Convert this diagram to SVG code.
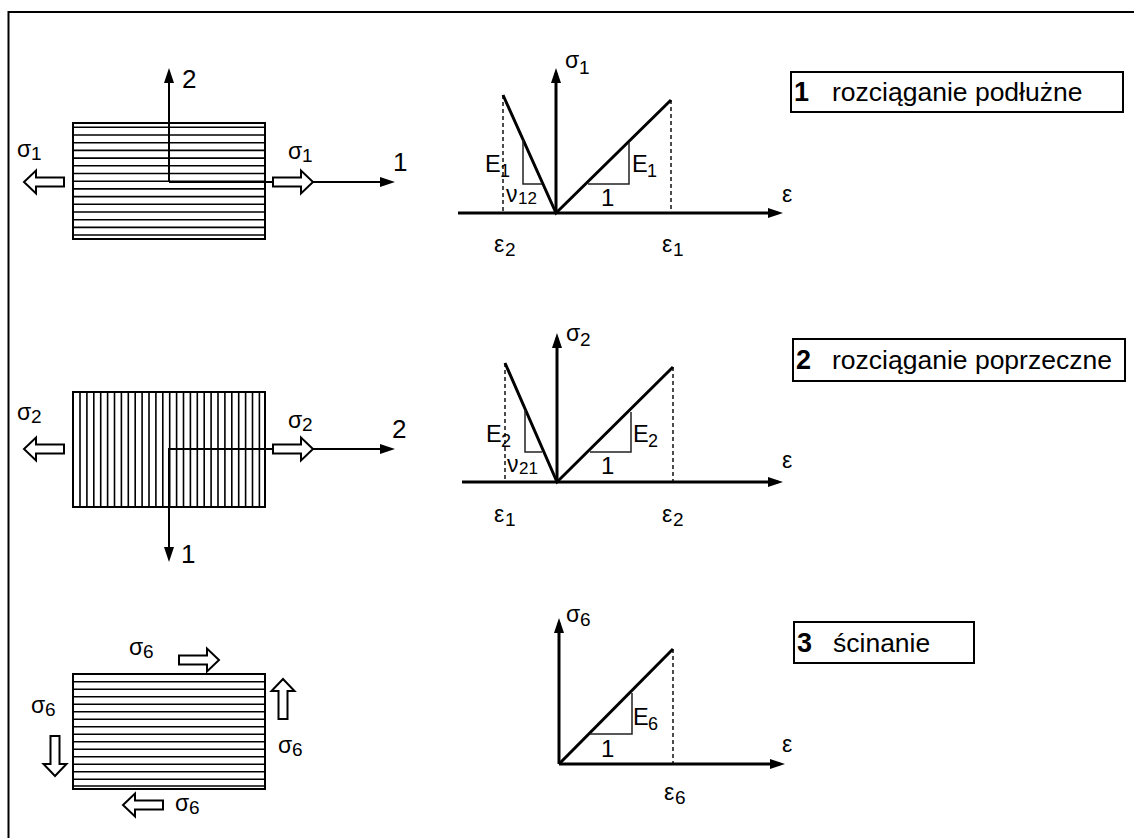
<svg xmlns="http://www.w3.org/2000/svg" width="1134" height="838" viewBox="0 0 1134 838">
<style>
text{font-family:"Liberation Sans",Arial,sans-serif;fill:#000}
.g{font-size:23px}
.s{font-size:19px}
.lab{font-size:26px}
.one{font-size:24px}
.e{font-size:23.5px}
.es{font-size:18px}
.ns{font-size:17px}
.box{fill:#fff;stroke:#000;stroke-width:2}
.hatch{fill:none;stroke:#000;stroke-width:1.6}
.ax{fill:none;stroke:#000;stroke-width:2}
.cax{fill:none;stroke:#000;stroke-width:3}
.curve{fill:none;stroke:#000;stroke-width:3}
.tri{fill:none;stroke:#222;stroke-width:1.5}
.dash{fill:none;stroke:#000;stroke-width:1.4;stroke-dasharray:4,3}
.harr{fill:#fff;stroke:#000;stroke-width:2}
.title{font-size:26.5px}
.num{font-size:27px;font-weight:bold}
</style>
<defs>
<marker id="ah" viewBox="0 0 15 10" refX="10" refY="5" markerWidth="15" markerHeight="10" markerUnits="userSpaceOnUse" orient="auto">
<path d="M0,0 L15,5 L0,10 Z" fill="#000"/>
</marker>
<path id="hollow" d="M0,-4.5 H28 V-11.5 L40,0 L28,11.5 V4.5 H0 Z"/>
</defs>

<path d="M8.5,838 V12 H1134" fill="none" stroke="#000" stroke-width="2"/>

<!-- Block 1: longitudinal tension -->
<g id="block1">
<rect class="box" x="73" y="123" width="192" height="116"/>
<path class="hatch" d="M74,127.3H264M74,135H264M74,142.7H264M74,150.4H264M74,158.1H264M74,165.8H264M74,173.5H264M74,181.2H264M74,188.9H264M74,196.6H264M74,204.3H264M74,212H264M74,219.7H264M74,227.4H264M74,235H264"/>
<path class="ax" d="M169,182 V73" marker-end="url(#ah)"/>
<path class="ax" d="M169,182 H390" marker-end="url(#ah)"/>
<use href="#hollow" class="harr" transform="translate(273,182)"/>
<use href="#hollow" class="harr" transform="translate(64,182) rotate(180)"/>
<text class="lab" x="182" y="88">2</text>
<text class="lab" x="393" y="171">1</text>
<text class="g" x="17" y="157">σ</text><text class="s" x="31" y="160">1</text>
<text class="g" x="288" y="159">σ</text><text class="s" x="302" y="162">1</text>
</g>

<!-- Block 2: transverse tension -->
<g id="block2">
<rect class="box" x="73" y="392" width="192" height="115"/>
<path class="hatch" d="M80,393V506M86.9,393V506M93.8,393V506M100.7,393V506M107.6,393V506M114.5,393V506M121.4,393V506M128.3,393V506M135.2,393V506M142.1,393V506M149,393V506M155.9,393V506M162.8,393V506M169.7,393V506M176.6,393V506M183.5,393V506M190.4,393V506M197.3,393V506M204.2,393V506M211.1,393V506M218,393V506M224.9,393V506M231.8,393V506M238.7,393V506M245.6,393V506M252.5,393V506M259.4,393V506"/>
<path class="ax" d="M169,449 H390" marker-end="url(#ah)"/>
<path class="ax" d="M169,448 V557" marker-end="url(#ah)"/>
<use href="#hollow" class="harr" transform="translate(273,449)"/>
<use href="#hollow" class="harr" transform="translate(64,449) rotate(180)"/>
<text class="lab" x="392" y="438">2</text>
<text class="lab" x="181" y="563">1</text>
<text class="g" x="17" y="420">σ</text><text class="s" x="31" y="423">2</text>
<text class="g" x="288" y="428">σ</text><text class="s" x="302" y="431">2</text>
</g>

<!-- Block 3: shear -->
<g id="block3">
<rect class="box" x="73" y="674" width="192" height="115"/>
<path class="hatch" d="M74,681.7H264M74,689.2H264M74,696.7H264M74,704.2H264M74,711.7H264M74,719.2H264M74,726.7H264M74,734.2H264M74,741.7H264M74,749.2H264M74,756.7H264M74,764.2H264M74,771.7H264M74,779.2H264M74,786H264"/>
<use href="#hollow" class="harr" transform="translate(179,660)"/>
<use href="#hollow" class="harr" transform="translate(163,805) rotate(180)"/>
<use href="#hollow" class="harr" transform="translate(283,719) rotate(-90)"/>
<use href="#hollow" class="harr" transform="translate(55,736) rotate(90)"/>
<text class="g" x="129" y="655">σ</text><text class="s" x="143" y="658">6</text>
<text class="g" x="31" y="713">σ</text><text class="s" x="45" y="716">6</text>
<text class="g" x="278" y="753">σ</text><text class="s" x="292" y="756">6</text>
<text class="g" x="175" y="811">σ</text><text class="s" x="189" y="814">6</text>
</g>

<!-- Chart 1 -->
<g id="chart1">
<path class="dash" d="M503,95 V213 M671,100 V213"/>
<path class="cax" d="M458,213 H778" marker-end="url(#ah)"/>
<path class="cax" d="M556,213 V73" marker-end="url(#ah)"/>
<path class="curve" d="M503,95 L556,213 L671,100"/>
<path class="tri" d="M523,140 V184 H542 M588,184 H629 V143"/>
<text class="g" x="565" y="68">σ</text><text class="s" x="579" y="74">1</text>
<text class="g" x="782" y="202">ε</text>
<text class="e" x="485" y="172">E</text><text class="es" x="500" y="177">1</text>
<text class="e" x="632" y="172">E</text><text class="es" x="647" y="177">1</text>
<text class="g" x="506" y="202">ν</text><text class="ns" x="518" y="204">12</text>
<text class="one" x="601" y="206">1</text>
<text class="g" x="494" y="252">ε</text><text class="s" x="505" y="256">2</text>
<text class="g" x="662" y="252">ε</text><text class="s" x="673" y="256">1</text>
</g>

<!-- Chart 2 -->
<g id="chart2">
<path class="dash" d="M505,363 V482 M673,367 V482"/>
<path class="cax" d="M462,482 H778" marker-end="url(#ah)"/>
<path class="cax" d="M557,482 V338" marker-end="url(#ah)"/>
<path class="curve" d="M505,363 L557,482 L673,367"/>
<path class="tri" d="M525,410 V452 H542 M590,452 H631 V412"/>
<text class="g" x="566" y="341">σ</text><text class="s" x="580" y="346">2</text>
<text class="g" x="782" y="468">ε</text>
<text class="e" x="486" y="442">E</text><text class="es" x="501" y="447">2</text>
<text class="e" x="633" y="442">E</text><text class="es" x="648" y="447">2</text>
<text class="g" x="507" y="472">ν</text><text class="ns" x="519" y="474">21</text>
<text class="one" x="601" y="474">1</text>
<text class="g" x="494" y="522">ε</text><text class="s" x="505" y="526">1</text>
<text class="g" x="662" y="522">ε</text><text class="s" x="673" y="526">2</text>
</g>

<!-- Chart 3 -->
<g id="chart3">
<path class="dash" d="M673,649 V764"/>
<path class="cax" d="M559,764 H780" marker-end="url(#ah)"/>
<path class="cax" d="M559,764 V623" marker-end="url(#ah)"/>
<path class="curve" d="M559,764 L673,649"/>
<path class="tri" d="M590,734 H632 V693"/>
<text class="g" x="566" y="622">σ</text><text class="s" x="580" y="626">6</text>
<text class="g" x="782" y="752">ε</text>
<text class="e" x="633" y="725">E</text><text class="es" x="648" y="730">6</text>
<text class="one" x="601" y="757">1</text>
<text class="g" x="664" y="800">ε</text><text class="s" x="675" y="804">6</text>
</g>

<!-- Labels -->
<g id="label1">
<rect class="box" x="791" y="72" width="332" height="40"/>
<text class="num" x="794" y="101">1</text>
<text class="title" x="832" y="101">rozciąganie podłużne</text>
</g>
<g id="label2">
<rect class="box" x="793" y="339" width="332" height="42"/>
<text class="num" x="796" y="369">2</text>
<text class="title" x="832" y="369">rozciąganie poprzeczne</text>
</g>
<g id="label3">
<rect class="box" x="794" y="622" width="180" height="41"/>
<text class="num" x="797" y="652">3</text>
<text class="title" x="833" y="652">ścinanie</text>
</g>
</svg>
